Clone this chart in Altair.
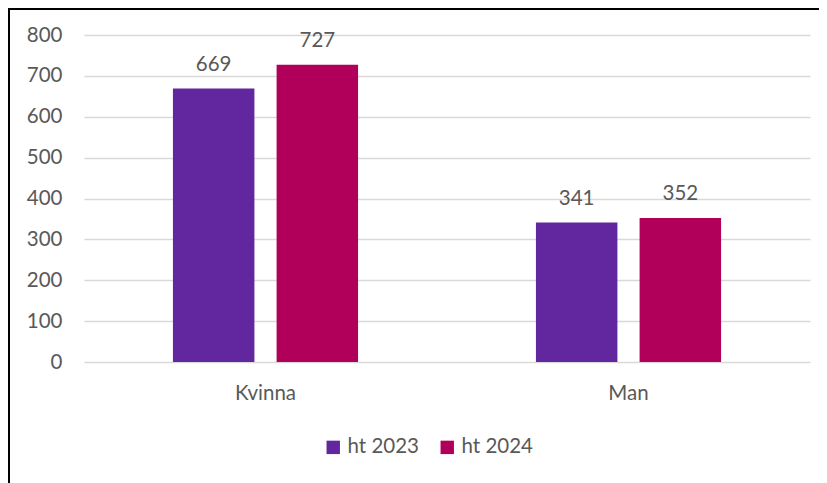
import altair as alt
import pandas as pd

categories = ["Kvinna", "Man"]
series = ["ht 2023", "ht 2024"]
values_2023 = [669, 341]
values_2024 = [727, 352]
colors = ["#62279E", "#B0005A"]

rows = []
for i, c in enumerate(categories):
    rows.append({"kon": c, "period": series[0], "antal": values_2023[i]})
    rows.append({"kon": c, "period": series[1], "antal": values_2024[i]})
df = pd.DataFrame(rows)

FONT = "Lato"
GREY = "#595959"
FS = 20.5

x = alt.X("kon:N", sort=categories, title=None,
          scale=alt.Scale(paddingInner=0.49, paddingOuter=0.245),
          axis=alt.Axis(labelAngle=0, ticks=False, domain=False, grid=False, labelPadding=21,
                        labelFontSize=FS, labelColor=GREY, labelFont=FONT))
xo = alt.XOffset("period:N", sort=series, scale=alt.Scale(paddingInner=0.214))
y = alt.Y("antal:Q", title=None,
          scale=alt.Scale(domain=[0, 800], nice=False),
          axis=alt.Axis(values=list(range(0, 801, 100)), ticks=False, domain=False,
                        labelPadding=22, labelFontSize=FS, labelColor=GREY, labelFont=FONT,
                        gridColor="#D9D9D9", gridWidth=1.5))

base = alt.Chart(df).encode(x=x, xOffset=xo, y=y)

bars = base.mark_bar().encode(
    color=alt.Color("period:N", sort=series, title=None,
                    scale=alt.Scale(domain=series, range=colors),
                    legend=alt.Legend(orient="none", legendX=239, legendY=402,
                                      direction="horizontal", symbolType="square",
                                      symbolSize=180, symbolStrokeWidth=0,
                                      labelFontSize=FS, labelColor=GREY, labelFont=FONT,
                                      columnPadding=18, labelOffset=4, padding=0))
)

labels = base.mark_text(baseline="bottom", dy=-14, fontSize=FS, font=FONT, color=GREY).encode(
    text=alt.Text("antal:Q")
)

frame_top = alt.Chart(df).mark_rule(color="black", strokeWidth=2).encode(
    x=alt.value(-76), x2=alt.value(745), y=alt.value(-26)
)
frame_left = alt.Chart(df).mark_rule(color="black", strokeWidth=2).encode(
    x=alt.value(-75), y=alt.value(-26), y2=alt.value(480)
)

chart = alt.layer(bars, labels, frame_top, frame_left).properties(
    width=726, height=327,
    autosize=alt.AutoSizeParams(type="none"),
    padding={"left": 76, "top": 27, "right": 9, "bottom": 121},
).configure(font=FONT).configure_view(strokeWidth=0, stroke="transparent")

chart.save("out.html", embed_options={"renderer": "svg", "actions": False})
